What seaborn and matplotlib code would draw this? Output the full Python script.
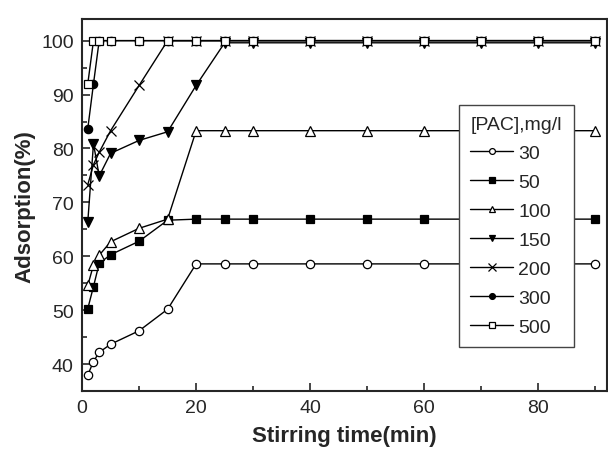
import matplotlib
matplotlib.use("Agg")
import matplotlib.pyplot as plt
import seaborn as sns
import pandas as pd
from matplotlib.ticker import MultipleLocator

sns.set_style("ticks")
plt.rcParams['font.family'] = ['Liberation Sans', 'DejaVu Sans']

times = [1, 2, 3, 5, 10, 15, 20, 25, 30, 40, 50, 60, 70, 80, 90]
doses = ["30", "50", "100", "150", "200", "300", "500"]
ads_30 = [38.0, 40.5, 42.2, 43.7, 46.2, 50.2, 58.6, 58.6, 58.6, 58.6, 58.6, 58.6, 58.6, 58.6, 58.6]
ads_50 = [50.3, 54.4, 58.7, 60.3, 62.8, 66.7, 66.9, 66.9, 66.9, 66.9, 66.9, 66.9, 66.9, 66.9, 66.9]
ads_100 = [54.6, 58.4, 60.2, 62.7, 65.2, 66.9, 83.3, 83.3, 83.3, 83.3, 83.3, 83.3, 83.3, 83.3, 83.3]
ads_150 = [66.4, 80.9, 74.9, 79.1, 81.5, 83.1, 91.7, 99.6, 99.6, 99.6, 99.6, 99.6, 99.6, 99.6, 99.6]
ads_200 = [73.3, 77.0, 79.3, 83.3, 91.7, 100.0, 100.0, 100.0, 100.0, 100.0, 100.0, 100.0, 100.0, 100.0, 100.0]
ads_300 = [83.7, 92.0, 100.0, 100.0, 100.0, 100.0, 100.0, 100.0, 100.0, 100.0, 100.0, 100.0, 100.0, 100.0, 100.0]
ads_500 = [92.0, 100.0, 100.0, 100.0, 100.0, 100.0, 100.0, 100.0, 100.0, 100.0, 100.0, 100.0, 100.0, 100.0, 100.0]

series = [ads_30, ads_50, ads_100, ads_150, ads_200, ads_300, ads_500]
rows = []
for d, vals in zip(doses, series):
    for t, v in zip(times, vals):
        rows.append({"time": t, "ads": v, "dose": d})
df = pd.DataFrame(rows)

styles = {
    "30": dict(marker="o", mfc="white"),
    "50": dict(marker="s", mfc="black"),
    "100": dict(marker="^", mfc="white"),
    "150": dict(marker="v", mfc="black"),
    "200": dict(marker="x", mfc="black"),
    "300": dict(marker="o", mfc="black"),
    "500": dict(marker="s", mfc="white"),
}
sizes = {"o": 6, "s": 5.5, "^": 7, "v": 7, "x": 7.5}

fig = plt.figure(figsize=(6.08, 4.56), dpi=100)
ax = fig.add_axes([0.135, 0.140, 0.863, 0.816])
for d in doses:
    st = styles[d]
    sub = df[df["dose"] == d]
    sns.lineplot(data=sub, x="time", y="ads", ax=ax, color="black", linewidth=1.0,
                 marker=st["marker"], markersize=sizes[st["marker"]],
                 markerfacecolor=st["mfc"], markeredgecolor="black",
                 markeredgewidth=0.9, label=d)

ax.set_xlim(0, 92)
ax.set_ylim(35, 104)
ax.xaxis.set_major_locator(MultipleLocator(20))
ax.xaxis.set_minor_locator(MultipleLocator(10))
ax.yaxis.set_major_locator(MultipleLocator(10))
ax.yaxis.set_minor_locator(MultipleLocator(5))
ax.tick_params(which="both", direction="in", width=1.2, top=False, right=False)
ax.tick_params(which="major", length=6, labelsize=14, pad=6)
ax.tick_params(which="minor", length=3.5)
for s in ax.spines.values():
    s.set_linewidth(1.5)
ax.set_xlabel("Stirring time(min)", fontsize=16, fontweight="bold", labelpad=6)
ax.set_ylabel("Adsorption(%)", fontsize=16, fontweight="bold", labelpad=4)

leg = ax.legend(title="[PAC],mg/l", loc="upper left", bbox_to_anchor=(0.718, 0.770),
                fontsize=14, title_fontsize=14, frameon=True, fancybox=False,
                edgecolor="#444444", framealpha=1, handlelength=2.2,
                labelspacing=0.58, borderpad=0.6, handletextpad=0.25,
                borderaxespad=0.0, markerscale=0.7)
leg._legend_box.align = "left"
leg.get_frame().set_linewidth(1.0)

fig.savefig("out.png", dpi=100)
